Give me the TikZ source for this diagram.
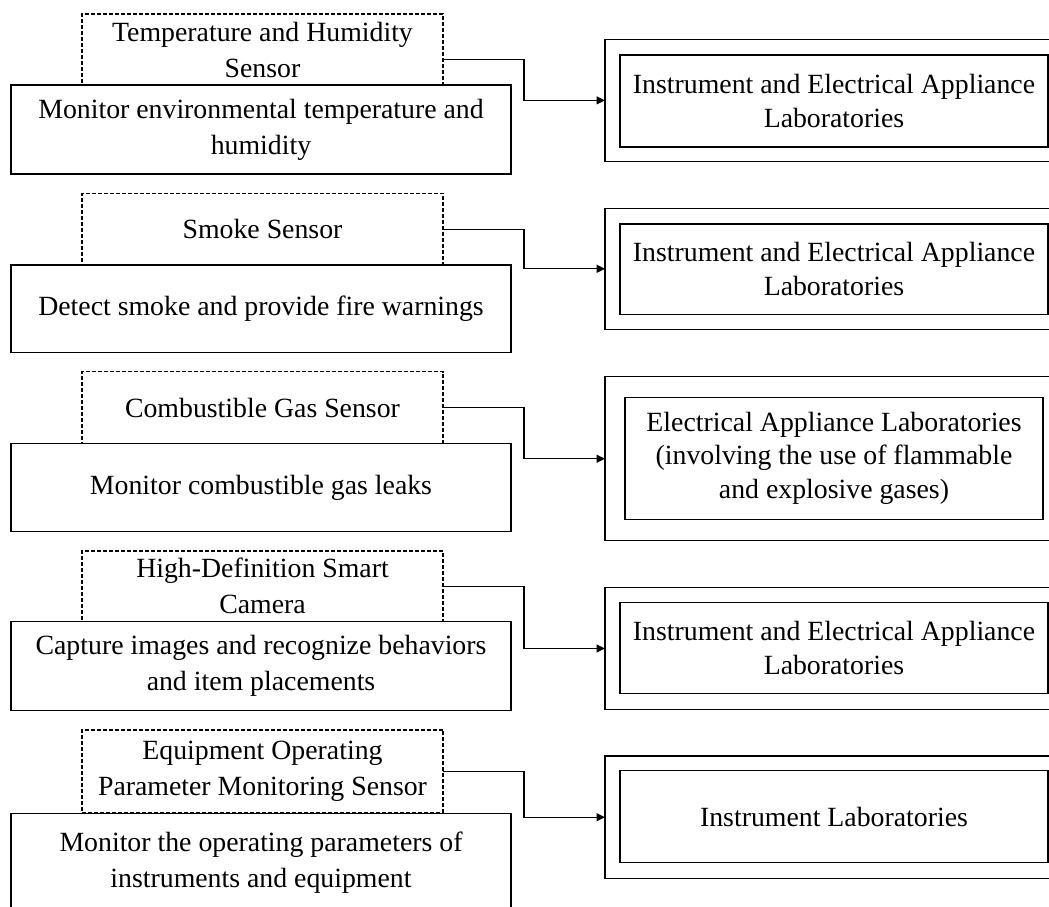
\documentclass[tikz,border=0pt]{standalone}
\usepackage{fontspec}
\setmainfont{Liberation Serif}
\usetikzlibrary{arrows.meta,calc}
\begin{document}
\begin{tikzpicture}[x=1pt,y=-1pt,
 every node/.style={inner sep=0pt, outer sep=0pt, align=center},
 sensorbox/.style={draw, dash pattern=on 4pt off 2pt, line width=1.2pt, minimum width=361pt, font=\fontsize{27.8}{36}\selectfont},
 funcbox/.style={draw, fill=white, line width=1.5pt, minimum width=500pt, font=\fontsize{27.8}{36}\selectfont},
 outerbox/.style={draw, line width=1.5pt, minimum width=460pt},
 labbox/.style={draw, line width=1.5pt, font=\fontsize{27.8}{33.5}\selectfont},
 link/.style={line width=1.3pt, -{Triangle[length=8.5pt,width=8pt]}}
]
\useasboundingbox (0,0) rectangle (1049,906);
\clip (0,0) rectangle (1049,906);

% Group 1
\node[sensorbox, minimum height=71pt] (s1) at (262.5,49.5) {Temperature and Humidity\\Sensor};
\node[funcbox, minimum height=89pt] (f1) at (261,129.5) {Monitor environmental temperature and\\humidity};
\node[outerbox, minimum height=122pt] (o1) at (835,100.4) {};
\node[labbox, minimum width=428pt, minimum height=91.7pt] (l1) at (834,100.9) {Instrument and Electrical Appliance\\Laboratories};
\draw[link] ($(s1.east)+(0,10)$) -- ++(81,0) |- (o1.west);

% Group 2
\node[sensorbox, minimum height=71.7pt] (s2) at (262.5,229.2) {Smoke Sensor};
\node[funcbox, minimum height=87.3pt] (f2) at (261,308.7) {Detect smoke and provide fire warnings};
\node[outerbox, minimum height=121pt] (o2) at (835,268.8) {};
\node[labbox, minimum width=428pt, minimum height=90.3pt] (l2) at (834,269.2) {Instrument and Electrical Appliance\\Laboratories};
\draw[link] (s2.east) -- ++(81,0) |- (o2.west);

% Group 3
\node[sensorbox, minimum height=71.6pt] (s3) at (262.5,407.5) {Combustible Gas Sensor};
\node[funcbox, minimum height=88.4pt] (f3) at (261,487.5) {Monitor combustible gas leaks};
\node[outerbox, minimum height=164pt] (o3) at (835,458.7) {};
\node[labbox, minimum width=418pt, minimum height=122pt] (l3) at (834,458.3) {Electrical Appliance Laboratories\\(involving the use of flammable\\and explosive gases)};
\draw[link] (s3.east) -- ++(81,0) |- (o3.west);

% Group 4
\node[sensorbox, minimum height=70.7pt] (s4) at (262.5,586.3) {High-Definition Smart\\Camera};
\node[funcbox, minimum height=89pt] (f4) at (261,666.2) {Capture images and recognize behaviors\\and item placements};
\node[outerbox, minimum height=121.6pt] (o4) at (835,648.5) {};
\node[labbox, minimum width=428pt, minimum height=91pt] (l4) at (834,647.8) {Instrument and Electrical Appliance\\Laboratories};
\draw[link] (s4.east) -- ++(81,0) |- (o4.west);

% Group 5
\node[sensorbox, minimum height=82.5pt] (s5) at (262.5,771.2) {Equipment Operating\\Parameter Monitoring Sensor};
\node[funcbox, minimum height=98pt] (f5) at (261,862.5) {Monitor the operating parameters of\\instruments and equipment};
\node[outerbox, minimum height=122.3pt] (o5) at (835,817.2) {};
\node[labbox, minimum width=428pt, minimum height=92pt] (l5) at (834,816.7) {Instrument Laboratories};
\draw[link] (s5.east) -- ++(81,0) |- (o5.west);
\end{tikzpicture}
\end{document}
